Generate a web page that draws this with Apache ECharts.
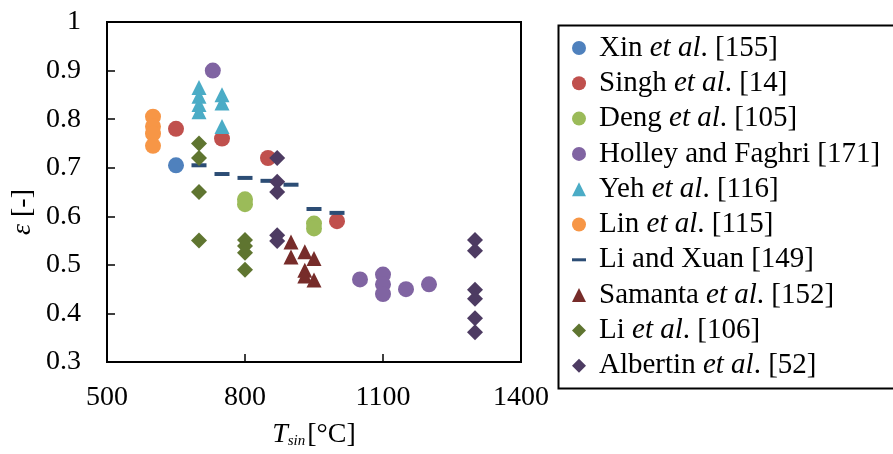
<!DOCTYPE html>
<html>
<head>
<meta charset="utf-8">
<script src="https://cdn.jsdelivr.net/npm/echarts@6/dist/echarts.min.js"></script>
<style>html,body{margin:0;padding:0;background:#fff}#c{width:893px;height:454px}</style>
</head>
<body>
<div id="c"></div>
<script>
// ---- data ----
const xin = [[650,0.705]];
const singh = [[650,0.78],[750,0.76],[850,0.72],[1000,0.59]];
const deng = [[800,0.635],[800,0.625],[950,0.585],[950,0.575]];
const holley = [[730,0.9],[1050,0.47],[1100,0.48],[1100,0.46],[1100,0.44],[1150,0.45],[1200,0.46]];
const yeh = [[700,0.865],[700,0.847],[700,0.83],[700,0.815],[750,0.85],[750,0.833],[750,0.785]];
const lin = [[600,0.805],[600,0.785],[600,0.77],[600,0.745]];
const liXuan = [[700,0.705],[750,0.687],[800,0.679],[850,0.673],[900,0.665],[950,0.615],[1000,0.607]];
const samanta = [[900,0.547],[900,0.516],[930,0.527],[950,0.513],[930,0.489],[930,0.477],[950,0.469]];
const liEtAl = [[700,0.75],[700,0.72],[700,0.65],[700,0.55],[800,0.551],[800,0.539],[800,0.525],[800,0.49]];
const albertin = [[870,0.72],[870,0.671],[870,0.65],[870,0.561],[870,0.549],[1300,0.551],[1300,0.529],[1300,0.449],[1300,0.43],[1300,0.39],[1300,0.361]];

const seriesNames = ['Xin et al. [155]','Singh et al. [14]','Deng et al. [105]','Holley and Faghri [171]','Yeh et al. [116]','Lin et al. [115]','Li and Xuan [149]','Samanta et al. [152]','Li et al. [106]','Albertin et al. [52]'];
const seriesData = [xin, singh, deng, holley, yeh, lin, liXuan, samanta, liEtAl, albertin];
const xTicks = [500, 800, 1100, 1400];
const yTicks = [0.3, 0.4, 0.5, 0.6, 0.7, 0.8, 0.9, 1];

// ---- styles ----
const colors = ['#4f81bd','#c0504d','#9bbb59','#8064a2','#4bacc6','#f79646','#2c4d75','#772c2a','#5f7530','#4d3b62'];
const symbols = ['circle','circle','circle','circle','triangle','circle','rect','triangle','diamond','diamond'];
const sizes = [16,16,16,16,[15,15],16,[15,4],[15,15],[16,16],[16,16]];
const legendIcons = ['circle','circle','circle','circle','triangle','circle','path://M0,0M0,5.5h14v3h-14zM14,14','triangle','diamond','diamond'];
const FONT = '"Liberation Serif","Times New Roman",serif';

const chart = echarts.init(document.getElementById('c'), null, {renderer:'canvas'});
const option = {
  animation: false,
  backgroundColor: '#fff',
  grid: {left:107, top:22, width:414, height:349, show:true, borderColor:'#000', borderWidth:2, backgroundColor:'transparent'},
  xAxis: {
    type:'value', min:xTicks[0], max:xTicks[xTicks.length-1], interval:xTicks[1]-xTicks[0],
    splitLine:{show:false},
    axisLine:{show:true, onZero:false, lineStyle:{color:'#000', width:2}},
    axisTick:{show:true, inside:true, length:8, lineStyle:{color:'#000', width:1.5}},
    axisLabel:{color:'#000', fontFamily:FONT, fontSize:28, margin:22, formatter:v=>String(v)},
    name:'{t|T}{s|sin}{n|[°C]}', nameLocation:'middle', nameGap:58,
    nameTextStyle:{rich:{
      t:{fontFamily:FONT, fontSize:28, fontStyle:'italic', color:'#000'},
      s:{fontFamily:FONT, fontSize:15, fontStyle:'italic', color:'#000', padding:[14,2,0,0]},
      n:{fontFamily:FONT, fontSize:28, color:'#000'}
    }}
  },
  yAxis: {
    type:'value', min:yTicks[0], max:yTicks[yTicks.length-1], interval:0.1,
    splitLine:{show:false},
    axisLine:{show:true, onZero:false, lineStyle:{color:'#000', width:2}},
    axisTick:{show:true, inside:true, length:8, lineStyle:{color:'#000', width:1.5}},
    axisLabel:{color:'#000', fontFamily:FONT, fontSize:28, margin:26, formatter:v=>String(+v.toFixed(1))},
    name:'{e|ε}{n| [-]}', nameLocation:'middle', nameRotate:90, nameGap:70,
    nameTextStyle:{padding:[0,40,0,0], rich:{
      e:{fontFamily:FONT, fontSize:28, fontStyle:'italic', color:'#000'},
      n:{fontFamily:FONT, fontSize:28, color:'#000'}
    }}
  },
  legend: {
    orient:'vertical', left:567, top:28, itemWidth:14, itemHeight:14, itemGap:5.3,
    data: seriesNames.map((n,i)=>({name:n, icon:legendIcons[i]})),
    formatter: function(name){
      const k = name.indexOf('et al.');
      if (k < 0) return '{s|}{n|' + name + '}';
      return '{s|}{n|' + name.slice(0,k) + '}{i|et al}{n|' + name.slice(k+5) + '}';
    },
    textStyle:{color:'#000', fontFamily:FONT, fontSize:29, lineHeight:30, rich:{
      s:{width:8, lineHeight:30},
      n:{fontFamily:FONT, fontSize:29, color:'#000', lineHeight:30},
      i:{fontFamily:FONT, fontSize:29, fontStyle:'italic', color:'#000', lineHeight:30}
    }}
  },
  graphic: [{type:'rect', left:556, top:23, shape:{width:360, height:363}, style:{fill:'none', stroke:'#000', lineWidth:2}, silent:true}],
  series: seriesNames.map((n,i)=>({
    name:n, type:'scatter', data:seriesData[i], symbol:symbols[i], symbolSize:sizes[i],
    itemStyle:{color:colors[i], opacity:1}
  }))
};
chart.setOption(option);
</script>
</body>
</html>
